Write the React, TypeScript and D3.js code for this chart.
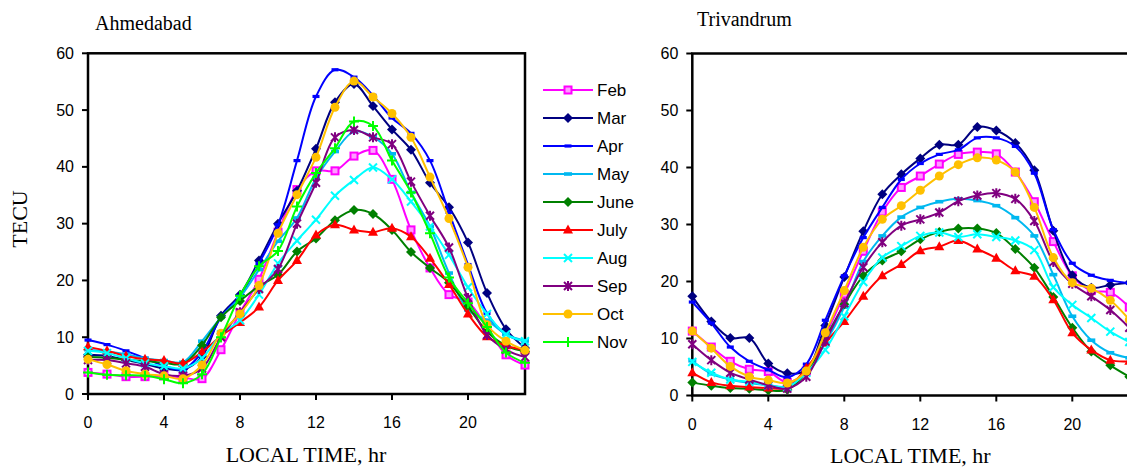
import React, { useEffect, useRef } from "react";
import * as d3 from "d3";

const HOURS = [0, 1, 2, 3, 4, 5, 6, 7, 8, 9, 10, 11, 12, 13, 14, 15, 16, 17, 18, 19, 20, 21, 22, 23];
const X_TICKS = [0, 4, 8, 12, 16, 20];
const Y_TICKS = [0, 10, 20, 30, 40, 50, 60];

const MONTHS = ["Feb", "Mar", "Apr", "May", "June", "July", "Aug", "Sep", "Oct", "Nov"];
const COLORS = ["#ff00ff", "#000080", "#0000ff", "#00b8f0", "#008000", "#ff0000", "#00ffff", "#800080", "#ffc000", "#00ff00"];
const MARKERS = ["square", "diamond", "dashSmall", "dash", "diamond", "triangle", "x", "asterisk", "circle", "plus"];

// Ahmedabad
const AHM_FEB = [3.8, 3.5, 3.05, 3.05, 3.2, 2.9, 2.7, 7.8, 14.3, 20.2, 28.5, 36, 39.3, 39.3, 41.9, 42.9, 37.8, 28.9, 22.2, 17.5, 16.2, 11.8, 6.9, 5.1];
const AHM_MAR = [6.9, 6.7, 6.0, 5.3, 4.5, 4.3, 6.6, 13.8, 17.5, 23.5, 30, 35.8, 43.2, 51.4, 54.6, 50.7, 46.6, 43, 37.2, 32.9, 26.7, 17.8, 11.4, 8.1];
const AHM_APR = [9.5, 8.7, 7.6, 6.3, 5.0, 4.3, 7.4, 13.5, 17.3, 23, 29.8, 41.1, 52.4, 57.1, 55.8, 52.6, 48.6, 45.9, 41.1, 32, 22.8, 14.2, 10.5, 9.3];
const AHM_MAY = [7.8, 7.5, 7.0, 6.3, 5.9, 5.6, 9.3, 13.5, 17.0, 21.9, 26.9, 31, 38, 42.7, 46.2, 45.3, 42.3, 35.5, 29.5, 21.3, 14.8, 13, 10.5, 9.4];
const AHM_JUNE = [6.5, 6.4, 6.0, 5.8, 5.5, 5.3, 8.6, 13.5, 16.4, 19, 21, 25.1, 27.4, 30.6, 32.4, 31.7, 28.9, 25, 22.2, 19.6, 15.4, 11, 8.5, 7.5];
const AHM_JULY = [8.3, 7.6, 6.7, 6.1, 5.9, 5.4, 7.4, 10.2, 12.6, 15.3, 20, 23.5, 28, 29.8, 28.9, 28.5, 29.2, 27.7, 23.9, 19.3, 14.1, 10.1, 8.5, 7.8];
const AHM_AUG = [7.6, 7.2, 6.3, 5.4, 4.9, 4.5, 6.3, 10.5, 13, 17.5, 23, 27, 30.7, 34.9, 37.7, 39.9, 37.8, 33.9, 29.5, 24.5, 18.8, 14.1, 10.5, 9.3];
const AHM_SEP = [6.0, 6.0, 5.4, 4.8, 3.5, 3.2, 4.5, 10, 14.4, 18.5, 22, 30, 37.2, 45.2, 46.5, 45.2, 44, 37.4, 31.4, 25.8, 16.9, 10.4, 7.8, 6.5];
const AHM_OCT = [6.1, 5.2, 4.1, 3.5, 3.2, 2.7, 5.1, 10.7, 14.1, 19.1, 28.3, 35.1, 41.7, 50.5, 55.1, 52.3, 49.4, 45.2, 38.2, 30.9, 22.3, 12.2, 9.3, 7.7];
const AHM_NOV = [3.8, 3.4, 3.3, 3.2, 2.6, 1.9, 3.5, 10, 17.3, 22.5, 25.2, 33, 38.9, 43.3, 48, 47.2, 41.1, 35.5, 28.3, 20.5, 16, 11.8, 7.3, 5.5];

// Trivandrum
const TRV_FEB = [11.3, 8.5, 6.0, 4.6, 4.2, 2.3, 4.3, 10.5, 17.8, 25.3, 32.2, 36.5, 38.5, 40.6, 42.3, 42.7, 42.4, 39.2, 34, 27, 21, 18.4, 18.1, 15.5];
const TRV_MAR = [17.4, 13, 10.1, 10.1, 5.6, 3.9, 4.5, 12.3, 20.8, 28.8, 35.3, 38.8, 41.6, 44, 44, 47.1, 46.5, 44.3, 39.5, 28.9, 21.1, 18.9, 19.4, 19.8];
const TRV_APR = [16.4, 12.7, 8.5, 6.0, 4.5, 3.2, 5.5, 13.2, 21, 27.7, 33, 37.9, 40.7, 42.3, 43.1, 45.2, 45.2, 43.7, 39, 29.1, 23.2, 21.1, 20.2, 19.7];
const TRV_MAY = [6.1, 3.8, 2.8, 2.2, 1.8, 1.6, 4.2, 9.2, 15.5, 23.5, 28, 31.3, 33, 34, 34.5, 34.2, 33.3, 31.2, 28, 21.2, 13.9, 9.7, 7.5, 6.6];
const TRV_JUNE = [2.3, 1.7, 1.3, 1.2, 0.9, 1.0, 4.0, 10, 16, 21, 23.7, 25.3, 27.4, 28.7, 29.3, 29.3, 28.5, 25.7, 22.4, 17.3, 11.9, 7.7, 5.3, 3.3];
const TRV_JULY = [4.0, 2.3, 1.7, 1.5, 1.3, 1.4, 4.8, 9.2, 13, 17.4, 21, 23, 25.4, 26.1, 27.2, 25.7, 24.1, 21.9, 20.9, 16.8, 11, 8, 6.2, 6.0];
const TRV_AUG = [5.9, 4.0, 2.8, 2.4, 1.8, 1.5, 4.0, 8, 13.9, 19.9, 24.2, 26.2, 28, 28.6, 27.8, 28.3, 27.8, 27.2, 25.5, 19, 15.9, 13.6, 11.2, 9.4];
const TRV_SEP = [9.0, 6.2, 4.0, 2.8, 1.8, 1.2, 3.3, 9.5, 16.2, 22.5, 26.9, 29.8, 30.9, 32.1, 34.1, 35.1, 35.5, 34.5, 30.6, 23.4, 19.6, 17.4, 15, 11.9];
const TRV_OCT = [11.3, 8.3, 5.1, 3.3, 2.7, 2.2, 4.3, 11, 18.4, 26, 30.9, 33.3, 36, 38.5, 40.5, 41.7, 41.3, 39.2, 33, 24.2, 19.8, 18.8, 16.7, 13.3];

const AHMEDABAD = [AHM_FEB, AHM_MAR, AHM_APR, AHM_MAY, AHM_JUNE, AHM_JULY, AHM_AUG, AHM_SEP, AHM_OCT, AHM_NOV];
const TRIVANDRUM = [TRV_FEB, TRV_MAR, TRV_APR, TRV_MAY, TRV_JUNE, TRV_JULY, TRV_AUG, TRV_SEP, TRV_OCT, null];

const SANS = "'Liberation Sans', Arial, sans-serif";
const SERIF = "'Liberation Serif', 'Times New Roman', serif";

function drawMarker(g: any, kind: string, color: string, x: number, y: number) {
    switch (kind) {
        case "square":
            g.append("rect").attr("x", x - 3.5).attr("y", y - 3.5).attr("width", 7).attr("height", 7)
                .attr("fill", "#ff9cff").attr("stroke", color).attr("stroke-width", 2);
            break;
        case "diamond":
            g.append("path").attr("d", `M${x},${y - 5}L${x + 5},${y}L${x},${y + 5}L${x - 5},${y}Z`).attr("fill", color);
            break;
        case "dashSmall":
            g.append("rect").attr("x", x - 3.5).attr("y", y - 1.6).attr("width", 7).attr("height", 3.2).attr("fill", color);
            break;
        case "dash":
            g.append("rect").attr("x", x - 4).attr("y", y - 1.8).attr("width", 8).attr("height", 3.6).attr("fill", color);
            break;
        case "triangle":
            g.append("path").attr("d", `M${x},${y - 5.5}L${x + 5},${y + 3.5}L${x - 5},${y + 3.5}Z`).attr("fill", color);
            break;
        case "x":
            g.append("path").attr("d", `M${x - 4},${y - 4}L${x + 4},${y + 4}M${x - 4},${y + 4}L${x + 4},${y - 4}`)
                .attr("stroke", color).attr("stroke-width", 2);
            break;
        case "asterisk":
            g.append("path").attr("d", `M${x - 4},${y - 4}L${x + 4},${y + 4}M${x - 4},${y + 4}L${x + 4},${y - 4}M${x},${y - 5}L${x},${y + 5}`)
                .attr("stroke", color).attr("stroke-width", 2);
            break;
        case "circle":
            g.append("circle").attr("cx", x).attr("cy", y).attr("r", 4.5).attr("fill", color);
            break;
        case "plus":
            g.append("path").attr("d", `M${x - 5},${y}L${x + 5},${y}M${x},${y - 5}L${x},${y + 5}`)
                .attr("stroke", color).attr("stroke-width", 2);
            break;
    }
}

function drawPanel(svg: any, p: any) {
    const x = d3.scaleLinear().domain([0, 23]).range([p.left, p.left + 23 * 19]);
    const y = d3.scaleLinear().domain([0, 60]).range([p.bottom, p.top]);
    const g = svg.append("g");

    // plot frame
    g.append("rect")
        .attr("x", x(0)).attr("y", y(60))
        .attr("width", x(23) - x(0)).attr("height", y(0) - y(60))
        .attr("fill", "none").attr("stroke", "#000").attr("stroke-width", 2.5);

    // y ticks
    Y_TICKS.forEach(t => {
        g.append("line").attr("x1", x(0) - 6).attr("x2", x(0)).attr("y1", y(t)).attr("y2", y(t))
            .attr("stroke", "#000").attr("stroke-width", 2);
        g.append("text").attr("x", x(0) - 14).attr("y", y(t) + 5.5)
            .attr("text-anchor", "end").style("font-family", SANS).style("font-size", "16px").text(t);
    });

    // x ticks
    X_TICKS.forEach(t => {
        g.append("line").attr("x1", x(t)).attr("x2", x(t)).attr("y1", y(0)).attr("y2", y(0) + 6)
            .attr("stroke", "#000").attr("stroke-width", 2);
        g.append("text").attr("x", x(t)).attr("y", p.tickBaseline)
            .attr("text-anchor", "middle").style("font-family", SANS).style("font-size", "16px").text(t);
    });

    const line = d3.line<number>()
        .x((d, i) => x(HOURS[i]))
        .y(d => y(d))
        .curve(d3.curveCatmullRom.alpha(0.5));

    p.series.forEach((values: number[] | null, i: number) => {
        if (!values) return;
        const sg = g.append("g");
        sg.append("path").attr("d", line(values)).attr("fill", "none")
            .attr("stroke", COLORS[i]).attr("stroke-width", 2);
        values.forEach((v, j) => drawMarker(sg, MARKERS[i], COLORS[i], x(HOURS[j]), y(v)));
    });

    g.append("text").attr("x", p.titleX).attr("y", p.titleY)
        .style("font-family", SERIF).style("font-size", "20px").text(p.title);

    g.append("text").attr("x", p.left + 218).attr("y", p.xTitleY).attr("text-anchor", "middle")
        .style("font-family", SERIF).style("font-size", "22px").text("LOCAL TIME, hr");

    if (p.yTitle) {
        g.append("text").attr("transform", `translate(27,219) rotate(-90)`).attr("text-anchor", "middle")
            .style("font-family", SERIF).style("font-size", "22px").text(p.yTitle);
    }
}

function App() {
    const ref = useRef<SVGSVGElement | null>(null);

    useEffect(() => {
        const svg = d3.select(ref.current);
        svg.selectAll("*").remove();

        drawPanel(svg, {
            left: 88, top: 53.3, bottom: 394, series: AHMEDABAD,
            title: "Ahmedabad", titleX: 95, titleY: 30, tickBaseline: 428, xTitleY: 462, yTitle: "TECU"
        });
        drawPanel(svg, {
            left: 692.3, top: 53.5, bottom: 395.5, series: TRIVANDRUM,
            title: "Trivandrum", titleX: 697, titleY: 26, tickBaseline: 430, xTitleY: 463, yTitle: null
        });

        // Legend
        const lg = svg.append("g");
        MONTHS.forEach((m, i) => {
            const ly = 90 + i * 28;
            lg.append("line").attr("x1", 543).attr("x2", 593).attr("y1", ly).attr("y2", ly)
                .attr("stroke", COLORS[i]).attr("stroke-width", 2);
            drawMarker(lg, MARKERS[i], COLORS[i], 568, ly);
            lg.append("text").attr("x", 597).attr("y", ly + 6)
                .style("font-family", SANS).style("font-size", "17px").text(m);
        });
    }, []);

    return (
        <svg ref={ref} width={1127} height={468}
            style={{ position: "absolute", left: 0, top: 0, background: "#fff", display: "block" }} />
    );
}

export default App;
